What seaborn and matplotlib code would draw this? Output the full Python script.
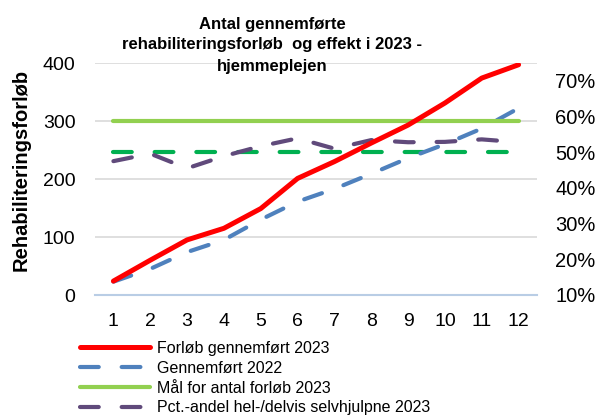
import numpy as np
import pandas as pd
import matplotlib
matplotlib.use("Agg")
import matplotlib.pyplot as plt
import matplotlib.ticker as mticker
import seaborn as sns

# --------------------------
# Data
# --------------------------
months = list(range(1, 13))
forloeb_2023 = [24, 60, 95, 115, 149, 201, 230, 262, 293, 331, 374, 397]
gennemfoert_2022 = [23, 45, 74, 95, 130, 161, 183, 209, 236, 260, 287, 322]
maal_2023 = [300] * 12
pct_selvhjulpne = [0.475, 0.496, 0.455, 0.489, 0.517, 0.539, 0.510, 0.534, 0.528, 0.529, 0.536, 0.528]
pct_maal = [0.50] * 12

labels = ["Forløb gennemført 2023", "Gennemført 2022",
          "Mål for antal forløb 2023", "Pct.-andel hel-/delvis selvhjulpne 2023"]

df = pd.DataFrame({
    "month": months,
    "forloeb": forloeb_2023,
    "g2022": gennemfoert_2022,
    "maal": maal_2023,
    "pct": pct_selvhjulpne,
    "pct_maal": pct_maal,
})

# --------------------------
# Style
# --------------------------
sns.set_style("white")
plt.rcParams["font.family"] = ["Liberation Sans", "DejaVu Sans"]
plt.rcParams["text.color"] = "black"
plt.rcParams["xtick.color"] = "black"
plt.rcParams["ytick.color"] = "black"

fig = plt.figure(figsize=(5.99, 4.16), dpi=100)
ax = fig.add_axes([95 / 599, 1 - 295 / 416, 442 / 599, 232 / 416])
ax2 = ax.twinx()

dash = (0, (4.5, 5.5))
common = dict(dash_capstyle="round", solid_capstyle="round")

# right axis lines first (drawn underneath)
sns.lineplot(data=df, x="month", y="pct_maal", ax=ax2, color="#00B050", lw=3,
             linestyle=dash, label="_maal_pct", **common)
sns.lineplot(data=df, x="month", y="pct", ax=ax2, color="#604A7B", lw=3,
             linestyle=dash, label=labels[3], **common)

sns.lineplot(data=df, x="month", y="g2022", ax=ax, color="#4F81BD", lw=3,
             linestyle=dash, label=labels[1], **common)
sns.lineplot(data=df, x="month", y="maal", ax=ax, color="#92D050", lw=3,
             label=labels[2], **common)
sns.lineplot(data=df, x="month", y="forloeb", ax=ax, color="#FF0000", lw=3.6,
             label=labels[0], **common)

# put the left axis on top of the right one
ax.set_zorder(ax2.get_zorder() + 1)
ax.patch.set_visible(False)

for a in (ax, ax2):
    if a.get_legend() is not None:
        a.get_legend().remove()
    a.set_xlabel("")
    a.set_ylabel("")
    for s in a.spines.values():
        s.set_visible(False)

ax.set_xlim(0.5, 12.5)
ax.set_xticks(months)
ax.set_ylim(0, 400)
ax.set_yticks([0, 100, 200, 300, 400])
ax.yaxis.grid(True, color="#D9D9D9", lw=1.2)
ax.set_axisbelow(True)
ax.spines["bottom"].set_visible(True)
ax.spines["bottom"].set_color("#B9CDE5")
ax.spines["bottom"].set_linewidth(1.5)
ax.tick_params(axis="y", length=0, pad=14, labelsize=14, labelcolor="black")
ax.tick_params(axis="x", length=0, pad=13, labelsize=14, labelcolor="black")

ax2.set_ylim(0.10, 0.75)
ax2.set_yticks([0.1, 0.2, 0.3, 0.4, 0.5, 0.6, 0.7])
ax2.yaxis.set_major_formatter(mticker.PercentFormatter(1.0, decimals=0))
ax2.tick_params(axis="y", length=0, pad=13, labelsize=14.5, labelcolor="black")
ax2.grid(False)

# titles
fig.text(272 / 599, 1 - 45 / 416,
         "Antal gennemførte\nrehabiliteringsforløb  og effekt i 2023 -\nhjemmeplejen",
         ha="center", va="center", fontsize=12, fontweight="bold", linespacing=1.5,
         color="black")
fig.text(21 / 599, 1 - 170 / 416, "Rehabiliteringsforløb", rotation=90,
         ha="center", va="center", fontsize=14.5, fontweight="bold", color="black")

# legend below the chart
h1, l1 = ax.get_legend_handles_labels()
h2, l2 = ax2.get_legend_handles_labels()
hmap = dict(zip(l1 + l2, h1 + h2))
leg = fig.legend([hmap[l] for l in labels], labels, loc="upper left",
                 bbox_to_anchor=(80 / 599, 1 - 341 / 416), frameon=False,
                 borderpad=0, borderaxespad=0, handlelength=4.4, handletextpad=0.45,
                 labelspacing=0.3, fontsize=11.5)
for t in leg.get_texts():
    t.set_color("black")

fig.savefig("out.png", dpi=100)
